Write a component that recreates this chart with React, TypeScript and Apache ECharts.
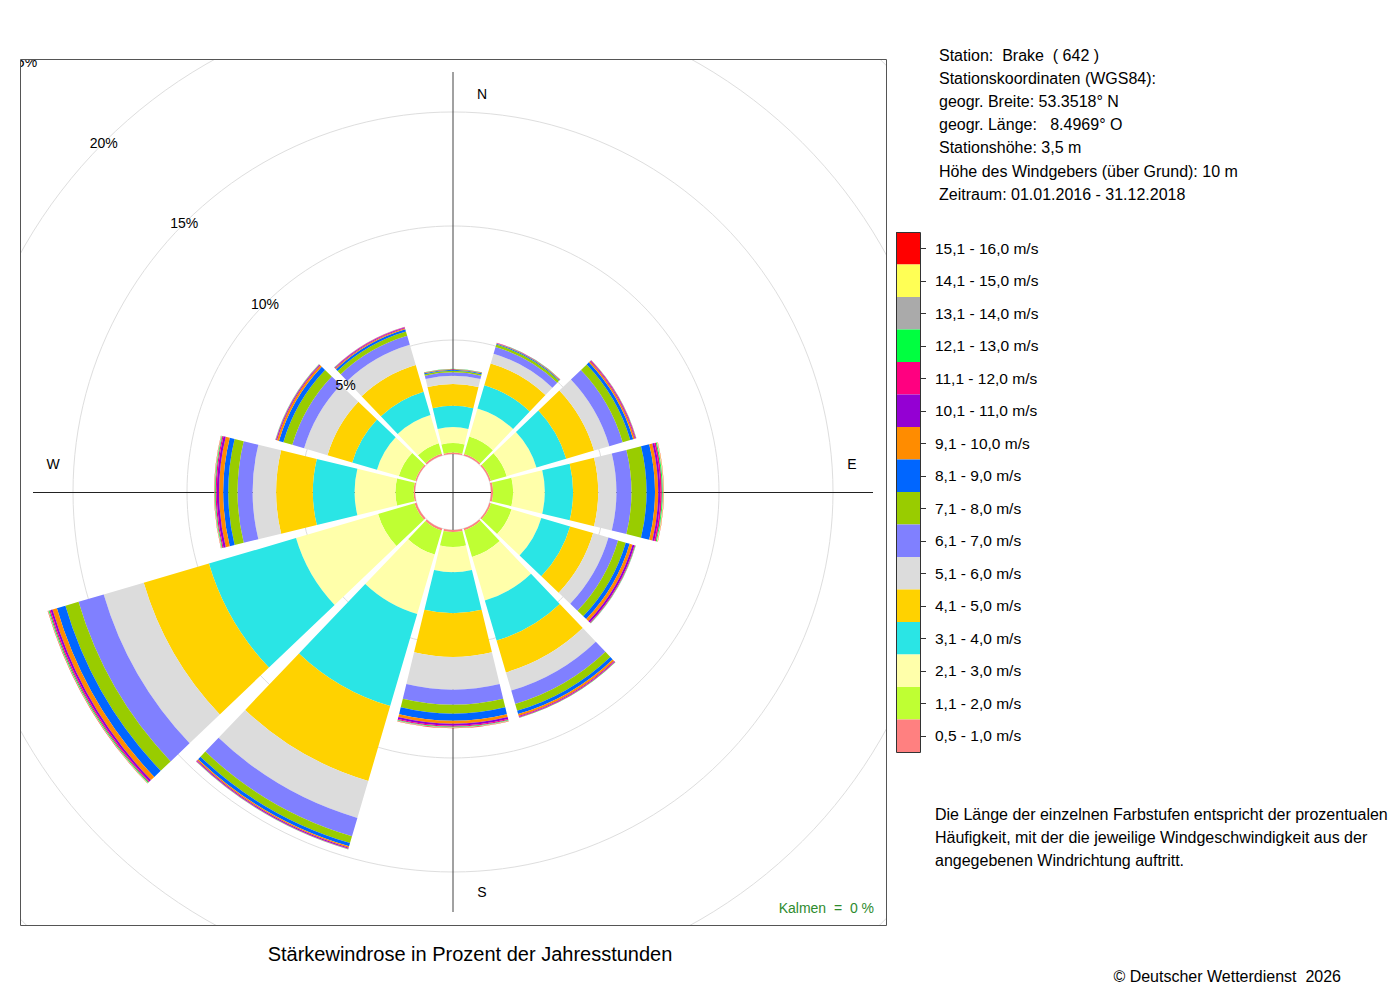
import React, { useEffect, useRef } from "react";
import * as echarts from "echarts";

// ---- data -------------------------------------------------------------
// wind directions (sector centres, clockwise from north)
const directions = ["N", "NNO", "ONO", "O", "OSO", "SSO", "S", "SSW", "WSW", "W", "WNW", "NNW"];

// speed classes, low -> high
const speedClasses = [
  "0,5 - 1,0 m/s", "1,1 - 2,0 m/s", "2,1 - 3,0 m/s", "3,1 - 4,0 m/s",
  "4,1 - 5,0 m/s", "5,1 - 6,0 m/s", "6,1 - 7,0 m/s", "7,1 - 8,0 m/s",
  "8,1 - 9,0 m/s", "9,1 - 10,0 m/s", "10,1 - 11,0 m/s", "11,1 - 12,0 m/s",
  "12,1 - 13,0 m/s", "13,1 - 14,0 m/s", "14,1 - 15,0 m/s", "15,1 - 16,0 m/s",
];

const classColors = [
  "#ff8080", "#bfff33", "#ffffaa", "#2ae5e5",
  "#ffd200", "#dcdcdc", "#8080ff", "#99cc00",
  "#0066ff", "#ff8c00", "#9400d3", "#ff0080",
  "#00ff40", "#aaaaaa", "#ffff55", "#ff0000",
];

// percentage of hours per class, one value per direction (order as `directions`)
const s05_10 = [0.06, 0.07, 0.07, 0.09, 0.07, 0.08, 0.09, 0.09, 0.09, 0.06, 0.06, 0.08];
const s11_20 = [0.42, 0.8, 0.72, 0.88, 0.94, 1.22, 0.66, 1.1, 1.67, 0.8, 0.75, 0.48];
const s21_30 = [0.7, 1.28, 1.36, 1.39, 1.36, 1.99, 1.1, 2.72, 3.75, 1.79, 1.0, 1.29];
const s31_40 = [0.93, 1.06, 1.36, 1.24, 1.32, 1.83, 1.8, 4.21, 3.98, 1.83, 1.13, 1.07];
const s41_50 = [0.96, 1.0, 1.27, 1.1, 1.05, 1.46, 1.92, 3.42, 2.98, 1.61, 1.13, 1.22];
const s51_60 = [0.36, 0.44, 0.7, 0.8, 0.7, 0.83, 1.43, 1.69, 1.83, 1.03, 1.07, 0.92];
const s61_70 = [0.15, 0.31, 0.61, 0.66, 0.44, 0.61, 0.66, 0.84, 1.15, 0.66, 0.54, 0.41];
const s71_80 = [0.07, 0.11, 0.35, 0.66, 0.35, 0.31, 0.39, 0.31, 0.6, 0.41, 0.41, 0.2];
const s81_90 = [0.04, 0.04, 0.13, 0.37, 0.18, 0.15, 0.31, 0.15, 0.39, 0.22, 0.2, 0.1];
const s91_100 = [0.02, 0.02, 0.07, 0.14, 0.13, 0.09, 0.13, 0.06, 0.2, 0.18, 0.09, 0.05];
const s101_110 = [0.01, 0.01, 0.03, 0.09, 0.09, 0.04, 0.09, 0.04, 0.09, 0.1, 0.04, 0.03];
const s111_120 = [0.01, 0.01, 0.03, 0.07, 0.03, 0.03, 0.04, 0.02, 0.05, 0.05, 0.02, 0.02];
const s121_130 = [0.005, 0.01, 0.01, 0.04, 0.02, 0.01, 0.03, 0.01, 0.04, 0.03, 0.01, 0.01];
const s131_140 = [0, 0, 0.01, 0.02, 0.01, 0.01, 0.02, 0.01, 0.02, 0.02, 0.01, 0.01];
const s141_150 = [0, 0, 0, 0.02, 0, 0, 0.01, 0, 0.01, 0.01, 0, 0];
const s151_160 = [0, 0, 0, 0.01, 0, 0, 0.01, 0, 0.01, 0.01, 0, 0];

const classValues = [
  s05_10, s11_20, s21_30, s31_40, s41_50, s51_60, s61_70, s71_80,
  s81_90, s91_100, s101_110, s111_120, s121_130, s131_140, s141_150, s151_160,
];

// radial axis (percent)
const radiusMax = 25;
const radiusStep = 5;

const compassLabels = ["N", "E", "S", "W"];

const infoLines = [
  "Station:  Brake  ( 642 )",
  "Stationskoordinaten (WGS84):",
  "geogr. Breite: 53.3518° N",
  "geogr. Länge:   8.4969° O",
  "Stationshöhe: 3,5 m",
  "Höhe des Windgebers (über Grund): 10 m",
  "Zeitraum: 01.01.2016 - 31.12.2018",
];

const noteLines = [
  "Die Länge der einzelnen Farbstufen entspricht der prozentualen",
  "Häufigkeit, mit der die jeweilige Windgeschwindigkeit aus der",
  "angegebenen Windrichtung auftritt.",
];

const chartTitle = "Stärkewindrose in Prozent der Jahresstunden";
const calmText = "Kalmen  =  0 %";
const copyright = "© Deutscher Wetterdienst  2026";

// ---- layout ------------------------------------------------------------
const FONT = "'Liberation Sans', Arial, Helvetica, sans-serif";
const CX = 453;
const CY = 492;
const R_INNER = 38;
const R_OUTER = 608;
const BOX = { x: 20, y: 59, w: 866, h: 866 };
const AXIS_LEN = 420;
const LEG = { x: 896, y: 232, w: 24, h: 32.5 };

function buildOption() {
  const series = speedClasses.map((name, i) => ({
    type: "bar",
    name,
    coordinateSystem: "polar",
    polarIndex: 0,
    stack: "wind",
    data: classValues[i],
    barCategoryGap: "9%",
    itemStyle: { color: classColors[i] },
    emphasis: { disabled: true },
    silent: true,
    z: 2,
  }));

  const graphic: any[] = [];

  // N-S / E-W axis lines (below bars)
  graphic.push({
    type: "line", z: 1, silent: true,
    shape: { x1: CX, y1: CY - AXIS_LEN, x2: CX, y2: CY + AXIS_LEN },
    style: { stroke: "#444", lineWidth: 1 },
  });
  graphic.push({
    type: "line", z: 1, silent: true,
    shape: { x1: CX - AXIS_LEN, y1: CY + 0.5, x2: CX + AXIS_LEN, y2: CY + 0.5 },
    style: { stroke: "#222", lineWidth: 1 },
  });

  // compass letters
  const compassPos = [
    [CX + 29, CY - 398],
    [CX + 399, CY - 28],
    [CX + 29, CY + 400],
    [CX - 400, CY - 28],
  ];
  compassLabels.forEach((t, i) => {
    graphic.push({
      type: "text", z: 3, silent: true,
      x: compassPos[i][0], y: compassPos[i][1],
      style: { text: t, fontSize: 14, fontFamily: FONT, fill: "#000", align: "center", verticalAlign: "middle" },
    });
  });

  // masks clipping the polar grid to the plot box
  const masks = [
    [0, 0, 1400, BOX.y],
    [0, BOX.y + BOX.h, 1400, 1000 - BOX.y - BOX.h],
    [0, 0, BOX.x, 1000],
    [BOX.x + BOX.w, 0, 1400 - BOX.x - BOX.w, 1000],
  ];
  masks.forEach((m) => {
    graphic.push({
      type: "rect", z: 50, silent: true,
      shape: { x: m[0], y: m[1], width: m[2], height: m[3] },
      style: { fill: "#fff" },
    });
  });

  // plot box
  graphic.push({
    type: "rect", z: 55, silent: true,
    shape: { x: BOX.x + 0.5, y: BOX.y + 0.5, width: BOX.w, height: BOX.h },
    style: { fill: "none", stroke: "#555", lineWidth: 1 },
  });

  // calm
  graphic.push({
    type: "text", z: 60, silent: true,
    x: 874, y: 908,
    style: { text: calmText, fontSize: 14, fontFamily: FONT, fill: "#2e8b2e", align: "right", verticalAlign: "middle" },
  });

  // title
  graphic.push({
    type: "text", z: 60, silent: true,
    x: 470, y: 954,
    style: { text: chartTitle, fontSize: 20, fontFamily: FONT, fill: "#000", align: "center", verticalAlign: "middle" },
  });

  // station info
  infoLines.forEach((t, i) => {
    graphic.push({
      type: "text", z: 60, silent: true,
      x: 939, y: 55 + i * 23.2,
      style: { text: t, fontSize: 16, fontFamily: FONT, fill: "#000", align: "left", verticalAlign: "middle" },
    });
  });

  // note
  noteLines.forEach((t, i) => {
    graphic.push({
      type: "text", z: 60, silent: true,
      x: 935, y: 814 + i * 23,
      style: { text: t, fontSize: 16, fontFamily: FONT, fill: "#000", align: "left", verticalAlign: "middle" },
    });
  });

  // copyright
  graphic.push({
    type: "text", z: 60, silent: true,
    x: 1341, y: 976,
    style: { text: copyright, fontSize: 16, fontFamily: FONT, fill: "#000", align: "right", verticalAlign: "middle" },
  });

  // legend frame and ticks
  graphic.push({
    type: "rect", z: 65, silent: true,
    shape: { x: LEG.x + 0.5, y: LEG.y + 0.5, width: LEG.w, height: LEG.h * speedClasses.length },
    style: { fill: "none", stroke: "#333", lineWidth: 1 },
  });
  speedClasses.forEach((_, i) => {
    const y = Math.round(LEG.y + LEG.h * (i + 0.5)) + 0.5;
    graphic.push({
      type: "line", z: 65, silent: true,
      shape: { x1: LEG.x + LEG.w + 0.5, y1: y, x2: LEG.x + LEG.w + 6, y2: y },
      style: { stroke: "#333", lineWidth: 1 },
    });
  });

  return {
    animation: false,
    backgroundColor: "#fff",
    textStyle: { fontFamily: FONT },
    polar: [
      { center: [CX, CY], radius: [R_INNER, R_OUTER] },
      { center: [CX, CY], radius: [R_INNER, R_OUTER] },
    ],
    angleAxis: [
      {
        polarIndex: 0,
        type: "category",
        data: directions,
        startAngle: 105,
        clockwise: true,
        boundaryGap: true,
        axisLine: { show: false },
        axisTick: { show: false },
        axisLabel: { show: false },
        splitLine: { show: false },
      },
      {
        polarIndex: 1,
        type: "value",
        min: 0,
        max: 360,
        startAngle: 135,
        axisLine: { show: false },
        axisTick: { show: false },
        axisLabel: { show: false },
        splitLine: { show: false },
      },
    ],
    radiusAxis: [
      {
        polarIndex: 0,
        type: "value",
        min: 0,
        max: radiusMax,
        interval: radiusStep,
        axisLine: { show: false },
        axisTick: { show: false },
        axisLabel: { show: false },
        splitLine: { show: true, lineStyle: { color: "#dedede", width: 1 } },
      },
      {
        polarIndex: 1,
        type: "value",
        min: 0,
        max: radiusMax,
        interval: radiusStep,
        z: 10,
        axisLine: { show: false },
        axisTick: { show: false },
        splitLine: { show: false },
        axisLabel: {
          show: true,
          showMinLabel: false,
          showMaxLabel: true,
          formatter: "{value}%",
          margin: 0,
          align: "center",
          verticalAlign: "middle",
          fontSize: 14,
          fontFamily: FONT,
          color: "#000",
        },
      },
    ],
    legend: {
      orient: "vertical",
      left: LEG.x,
      top: LEG.y,
      padding: 0,
      itemGap: 0,
      itemWidth: LEG.w,
      itemHeight: LEG.h,
      icon: "rect",
      selectedMode: false,
      z: 62,
      data: [...speedClasses].reverse(),
      textStyle: { fontSize: 15.5, fontFamily: FONT, color: "#000", padding: [0, 0, 0, 10] },
    },
    graphic,
    series,
  };
}

export default function App() {
  const ref = useRef<HTMLDivElement>(null);
  useEffect(() => {
    document.body.style.margin = "0";
    const chart = echarts.init(ref.current as HTMLDivElement, null, { renderer: "svg" });
    chart.setOption(buildOption() as any);
    return () => chart.dispose();
  }, []);
  return <div ref={ref} style={{ width: 1400, height: 1000, background: "#fff" }} />;
}
